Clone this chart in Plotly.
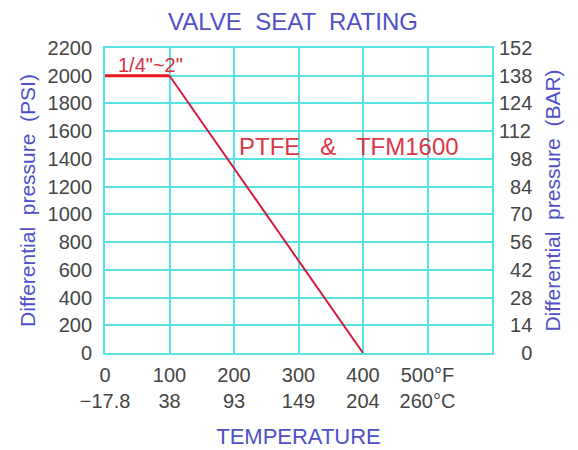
import plotly.graph_objects as go

# ---- data ----
# rating curve: flat segment then linear derating
flat_temp_f = [0, 100]
flat_psi = [2000, 2000]
slope_temp_f = [100, 400]
slope_psi = [2000, 0]

x_tickvals = [0, 100, 200, 300, 400, 500]
x_ticktext_f = ["0", "100", "200", "300", "400", "500°F"]
x_ticktext_c = ["\u221217.8", "38", "93", "149", "204", "260°C"]

psi_ticks = [0, 200, 400, 600, 800, 1000, 1200, 1400, 1600, 1800, 2000, 2200]
bar_ticks = ["0", "14", "28", "42", "56", "70", "84", "98", "112", "124", "138", "152"]

FONT = "Liberation Sans, Arial, sans-serif"
BLUE = "#5050c8"
GRAY = "#454545"
CYAN = "#55e3e3"

fs = "\u2007"
bar_text = [fs * (3 - len(t)) + t for t in bar_ticks]

fig = go.Figure()
fig.add_trace(go.Scatter(x=flat_temp_f, y=flat_psi, mode="lines",
                         line=dict(color="#f01818", width=2.8), showlegend=False,
                         hoverinfo="skip"))
fig.add_trace(go.Scatter(x=slope_temp_f, y=slope_psi, mode="lines",
                         line=dict(color="#d41c3c", width=2), showlegend=False,
                         hoverinfo="skip"))
fig.add_trace(go.Scatter(x=slope_temp_f, y=slope_psi, mode="lines", yaxis="y2",
                         line=dict(width=0), opacity=0, showlegend=False,
                         hoverinfo="skip"))

# page body has an 8px default margin: the figure is offset by (8, 8)
fig.update_layout(
    width=578, height=450,
    margin=dict(l=97, r=94, t=40, b=105, autoexpand=False),
    paper_bgcolor="white", plot_bgcolor="white",
    font=dict(family=FONT, color=GRAY),
    title=dict(text="VALVE  SEAT  RATING", x=0.493, xanchor="center",
               y=1 - 14 / 450, yanchor="middle", automargin=False,
               font=dict(size=24, color=BLUE, family=FONT)),
    xaxis=dict(range=[0, 600], tickvals=x_tickvals,
               ticktext=[f + "<br>" + c for f, c in zip(x_ticktext_f, x_ticktext_c)],
               showgrid=True, gridcolor=CYAN, gridwidth=1.8,
               showline=True, linecolor=CYAN, linewidth=1.8, mirror=True,
               ticks="", ticklabelstandoff=3, zeroline=False, automargin=False,
               tickfont=dict(size=20, color=GRAY),
               title=dict(text="TEMPERATURE", font=dict(size=22, color=BLUE),
                          standoff=18)),
    yaxis=dict(range=[0, 2200], tickvals=psi_ticks,
               ticktext=[str(v) for v in psi_ticks],
               showgrid=True, gridcolor=CYAN, gridwidth=1.8,
               showline=True, linecolor=CYAN, linewidth=1.8, mirror=True,
               ticks="", ticklabelstandoff=7, zeroline=False, automargin=False,
               tickfont=dict(size=20, color=GRAY),
               title=dict(text="Differential  pressure  (PSI)",
                          font=dict(size=21, color=BLUE), standoff=6)),
    yaxis2=dict(range=[0, 2200], overlaying="y", side="right",
                tickvals=psi_ticks, ticktext=bar_text,
                showgrid=False, zeroline=False, ticks="", automargin=False,
                ticklabelstandoff=6,
                tickfont=dict(size=20, color=GRAY),
                title=dict(text="Differential  pressure  (BAR)",
                           font=dict(size=21, color=BLUE), standoff=13)),
    annotations=[
        dict(x=70, y=2077, xref="x", yref="y", text="1/4\"~2\"",
             showarrow=False, font=dict(size=20, color="#d83040", family=FONT)),
        dict(x=378, y=1486, xref="x", yref="y", text="PTFE   &   TFM1600",
             showarrow=False, font=dict(size=24, color="#d83848", family=FONT)),
    ],
)

fig.write_html("out.html")
